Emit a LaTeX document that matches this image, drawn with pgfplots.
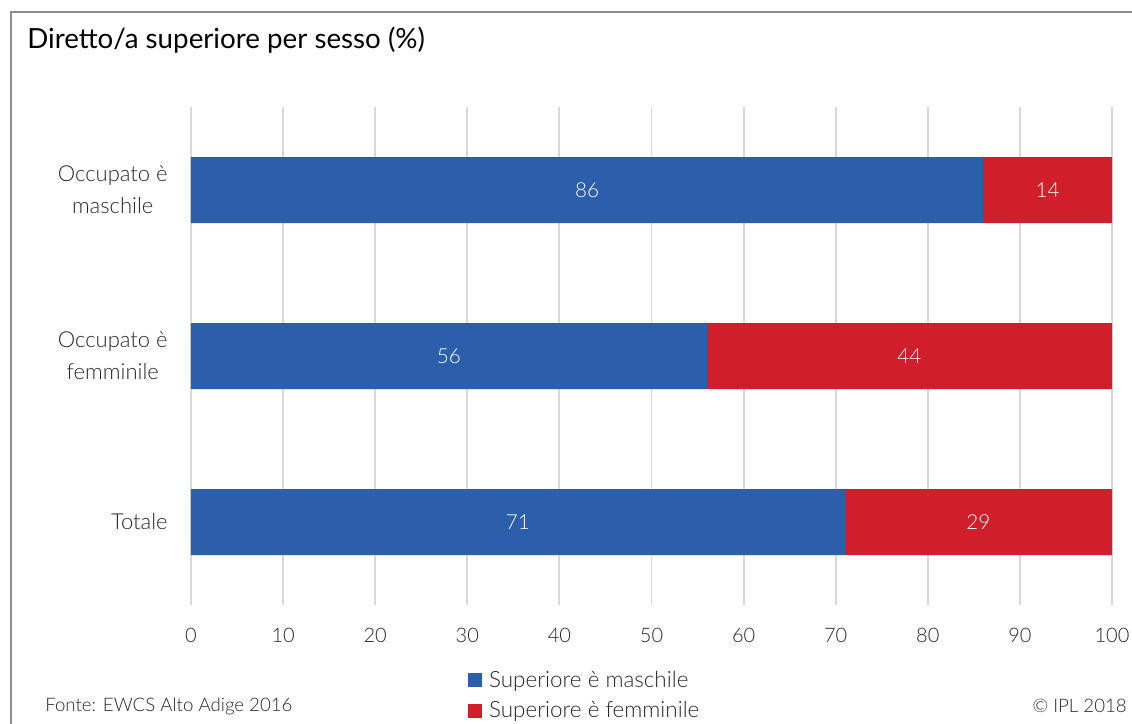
\documentclass[border=0pt]{standalone}
\usepackage{pgfplots}
\pgfplotsset{compat=1.18}
\usepackage{fontspec}
\setmainfont{Lato}
\IfFontExistsTF{Lato Light}{\newfontfamily\lightfont{Lato Light}}{\newfontfamily\lightfont{Lato}}
\definecolor{barblue}{RGB}{43,94,171}
\definecolor{barred}{RGB}{208,31,43}
\definecolor{gridgray}{RGB}{217,217,217}
\definecolor{framegray}{RGB}{140,140,140}
\definecolor{txt}{RGB}{40,40,40}
\pgfplotstableread{
y male female
0 71 29
1 56 44
2 86 14
}\datatable
\begin{document}
\begin{tikzpicture}
\useasboundingbox (0pt,0pt) rectangle (849pt,-543pt);
% frame
\draw[framegray, line width=0.8pt] (8.25pt,-543pt) -- (8.25pt,-9pt) -- (849pt,-9pt);
\node[anchor=west, inner sep=0pt, font=\fontsize{20.8}{25}\selectfont, text=black] at (20.25pt,-30pt) {Diretto/a superiore per sesso (\%)};
\begin{axis}[
  at={(143.25pt,-453.75pt)}, anchor=south west,
  scale only axis, width=690.75pt, height=373.5pt,
  xmin=0, xmax=100, ymin=-0.5, ymax=2.5,
  xbar stacked, bar width=49.5pt,
  axis line style={draw=none},
  major tick length=0pt,
  xtick={0,10,...,100},
  ytick={0,1,2},
  yticklabels={Totale, {Occupato è\\femminile}, {Occupato è\\maschile}},
  yticklabel style={align=center, font=\lightfont\fontsize{16.5}{24}\selectfont, text=txt, xshift=-14pt},
  xticklabel style={font=\lightfont\fontsize{15}{18}\selectfont, text=txt, yshift=-14pt},
  /pgf/number format/assume math mode=true,
  xmajorgrids, grid style={gridgray, line width=1.4pt},
  legend style={at={(0.301,-0.1265)}, anchor=north west, draw=none, fill=none,
    font=\lightfont\fontsize{16.8}{19}\selectfont, text=txt, row sep=5.1pt,
    legend cell align=left, inner sep=0pt,
    /tikz/every odd column/.append style={column sep=3pt}},
  legend image code/.code={\fill[#1] (0pt,-5.25pt) rectangle (10.5pt,5.25pt);},
]
\addplot[fill=barblue, draw=none] table[x=male, y=y] {\datatable};
\addlegendentry{Superiore è maschile}
\addplot[fill=barred, draw=none] table[x=female, y=y] {\datatable};
\addlegendentry{Superiore è femminile}
\end{axis}
\begin{axis}[
  at={(143.25pt,-453.75pt)}, anchor=south west,
  scale only axis, width=690.75pt, height=373.5pt,
  xmin=0, xmax=100, ymin=-0.5, ymax=2.5,
  hide axis,
]
\addplot[draw=none, mark=none, nodes near coords, point meta=explicit symbolic,
  every node near coord/.style={anchor=center, text=white, font=\lightfont\fontsize{15.5}{18}\selectfont}]
  coordinates {(35.5,0)[71] (85.5,0)[29] (28,1)[56] (78,1)[44] (43,2)[86] (93,2)[14]};
\end{axis}
\node[anchor=west, inner sep=0pt, font=\lightfont\fontsize{14}{16}\selectfont, text=txt] at (33.75pt,-529.5pt) {Fonte: EWCS Alto Adige 2016};
\node[anchor=east, inner sep=0pt, font=\lightfont\fontsize{14}{16}\selectfont, text=txt] at (845.25pt,-529.5pt) {© IPL 2018};
\end{tikzpicture}
\end{document}
